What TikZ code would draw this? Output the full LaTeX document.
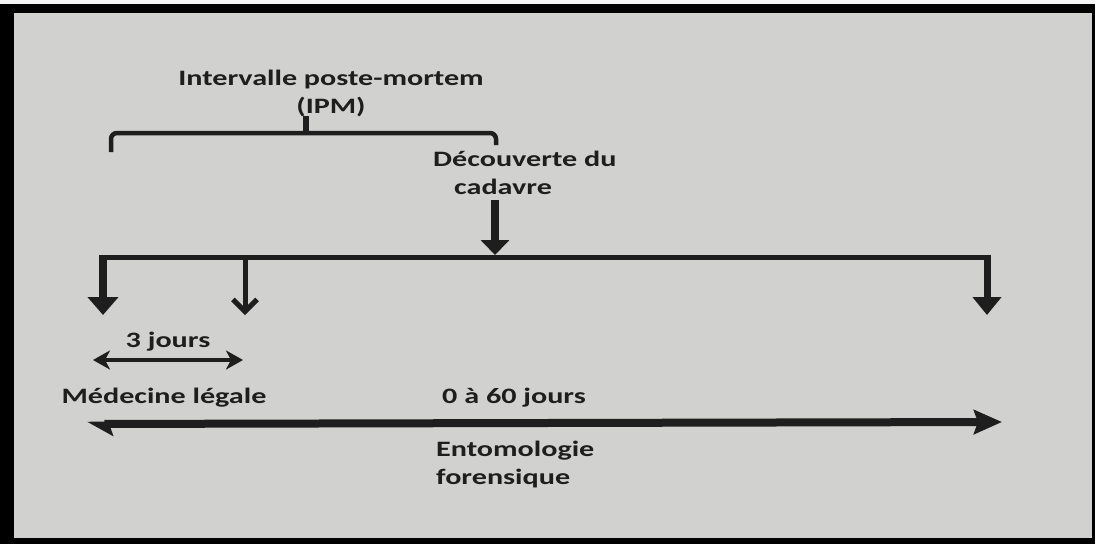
\documentclass[tikz,border=0pt]{standalone}
\usepackage{fontspec}
\setmainfont{Carlito}[FakeStretch=1.37]
\usetikzlibrary{arrows.meta}
\definecolor{paper}{RGB}{209,209,207}
\definecolor{ink}{RGB}{30,30,30}
\tikzset{
  lbl/.style={font=\bfseries\fontsize{22}{28}\selectfont,text=ink,inner sep=0pt},
  bar/.style={draw=ink,line width=5pt},
  fat/.style={draw=ink,line width=8pt},
}

\begin{document}
\begin{tikzpicture}[x=1pt,y=-1pt]
 % page of the photo
 \fill[black] (0,0) rectangle (1095,544);
 \fill[white!92!gray] (0,0) rectangle (1095,4);
 \fill[paper] (14,13) rectangle (1092,538);
 \useasboundingbox (0,0) rectangle (1095,544);

 % base of a two-line node is its last line
 \draw (331,113)  node[lbl,align=center,anchor=base] (ipm)
              {Intervalle poste-mortem\\(IPM)};

 \draw (433,194)  node[lbl,align=left,anchor=base west] (dec)
              {D\'ecouverte du\\\hspace*{21pt}cadavre};

 \draw (168,347)  node[lbl,anchor=base] (trois) {3 jours};
 \draw (164,403)  node[lbl,anchor=base] (medleg) {M\'edecine l\'egale};
 \draw (514,403)  node[lbl,anchor=base] (jours) {0 \`a 60 jours};
 \draw (436,484)  node[lbl,align=left,anchor=base west] (ento)
              {Entomologie\\forensique};

 % brace over the interval
 \coordinate (bl) at (111,152);
 \coordinate (br) at (496,145);
 \coordinate (bc) at (306,135);
 \draw[bar,line width=4.5pt,rounded corners=6pt] (bl) -- (111,133) -- (496,133) -- (br);
 \draw[bar,line width=6pt] (bc) -- ([yshift=1pt]bc |- ipm.south);

 % bar and its arrows
 \coordinate (t1) at (103,257);
 \coordinate (t2) at (245,257);
 \coordinate (split) at (495,257);
 \coordinate (t3) at (987,257);
 \coordinate (a1) at (103,315);
 \coordinate (a2) at (245,315);
 \coordinate (a3) at (987,315);

 \draw[bar,line cap=rect] (t1) -- (t3);
 \draw[fat,-{Triangle[length=15pt,width=28pt]}] ([yshift=-6pt]dec.south -| split) -- ([yshift=2pt]split);
 \draw[fat,-{Triangle[length=18pt,width=30pt]}] ([yshift=2.5pt]t1) -- (a1);
 \draw[bar,-{Straight Barb[length=12pt,width=24pt]}] ([yshift=2.5pt]t2) -- (a2);
 \draw[fat,line width=7pt,-{Triangle[length=18pt,width=28pt]}] ([yshift=2.5pt]t3) -- (a3);

 % durations
 \coordinate (d1) at (93,360);
 \coordinate (d2) at (243,360);
 \draw[bar,line width=4.5pt,{Stealth[length=17pt,width=19pt,inset=5pt]}-{Stealth[length=17pt,width=19pt,inset=5pt]}] (d1) -- (d2);

 \coordinate (e1) at (87,424);
 \coordinate (e2) at (1002,422);
 \draw[fat,{Stealth[harpoon,length=22pt,width=24pt,inset=4pt]}-{Stealth[length=28pt,width=24pt,inset=4pt]}] (e1) -- (e2);

\end{tikzpicture}
\end{document}
